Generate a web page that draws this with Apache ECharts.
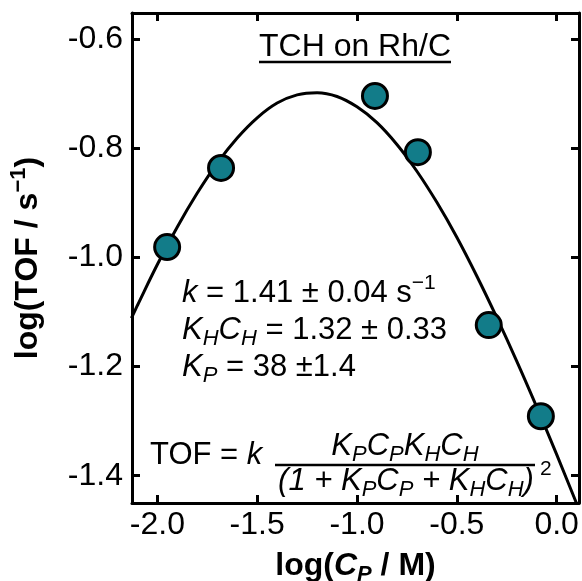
<!DOCTYPE html>
<html>
<head>
<meta charset="utf-8">
<script src="https://cdn.jsdelivr.net/npm/echarts@6/dist/echarts.min.js"></script>
<style>
  html, body { margin: 0; padding: 0; background: #fff; }
  #chart { width: 582px; height: 581px; }
</style>
</head>
<body>
<div id="chart"></div>
<script>
const FONT = '"Liberation Sans", Arial, Helvetica, sans-serif'

// measured rates, log(C_P / M) vs log(TOF / s^-1)
const ptX = [-1.951, -1.681, -0.910, -0.695, -0.340, -0.079]
const ptY = [-0.981, -0.836, -0.704, -0.807, -1.124, -1.291]

// fitted curve
const fitX = [-2.13, -2.1, -2.0, -1.9, -1.8, -1.7, -1.6, -1.5, -1.4, -1.3, -1.2, -1.1, -1.0,
  -0.9, -0.8, -0.7, -0.6, -0.5, -0.4, -0.3, -0.2, -0.1, 0.0, 0.1, 0.12]
const fitY = [-1.111, -1.088, -1.013, -0.944, -0.882, -0.827, -0.781, -0.744, -0.717, -0.702, -0.698, -0.705, -0.724,
  -0.753, -0.793, -0.842, -0.899, -0.963, -1.034, -1.110, -1.190, -1.274, -1.361, -1.451, -1.469]

const xTicks = [-2.0, -1.5, -1.0, -0.5, 0.0]
const yTicks = [-1.4, -1.2, -1.0, -0.8, -0.6]

const xRange = { min: -2.127, max: 0.112 }
const yRange = { min: -1.45, max: -0.552 }

const lineBlack = { color: '#000', width: 3 }

// rich styles for italics / sub / superscripts
const richBase = {
  i: { fontStyle: 'italic', fontSize: 31, fontFamily: FONT, lineHeight: 40, color: '#000' },
  isub: { fontStyle: 'italic', fontSize: 22, fontFamily: FONT, lineHeight: 26, verticalAlign: 'bottom', color: '#000' },
  sup: { fontSize: 21, fontFamily: FONT, lineHeight: 22, verticalAlign: 'top', color: '#000' }
}

function txt(text, x, y, opts) {
  return {
    type: 'text',
    x: x,
    y: y,
    z: 10,
    style: Object.assign({
      text: text,
      fontSize: 31,
      fontFamily: FONT,
      fill: '#000',
      lineHeight: 40,
      align: 'left',
      verticalAlign: 'middle',
      rich: richBase
    }, opts || {})
  }
}

function makeAxis(pos, show, range, ticks) {
  const isX = pos === 'bottom' || pos === 'top'
  return {
    type: 'value',
    position: pos,
    min: range.min,
    max: range.max,
    axisLine: { show: true, onZero: false, lineStyle: lineBlack },
    axisTick: { show: true, inside: true, length: 8, customValues: ticks, lineStyle: lineBlack },
    axisLabel: {
      show: show,
      customValues: ticks,
      formatter: (v) => v.toFixed(1),
      fontSize: 32,
      fontFamily: FONT,
      color: '#000',
      margin: isX ? 6 : 9
    },
    splitLine: { show: false }
  }
}

const xMain = makeAxis('bottom', true, xRange, xTicks)
xMain.name = 'log({bi|C}{bisub|P} / M)'
xMain.nameLocation = 'middle'
xMain.nameGap = 43
xMain.nameTextStyle = {
  fontSize: 32, fontWeight: 'bold', fontFamily: FONT, color: '#000', lineHeight: 40,
  rich: {
    bi: { fontSize: 32, fontWeight: 'bold', fontStyle: 'italic', fontFamily: FONT, lineHeight: 40, color: '#000' },
    bisub: { fontSize: 22, fontWeight: 'bold', fontStyle: 'italic', fontFamily: FONT, lineHeight: 26, verticalAlign: 'bottom', color: '#000' }
  }
}

const yMain = makeAxis('left', true, yRange, yTicks)
yMain.name = 'log(TOF / s{bsup|\u22121})'
yMain.nameLocation = 'middle'
yMain.nameRotate = 90
yMain.nameGap = 84
yMain.nameTextStyle = {
  fontSize: 32, fontWeight: 'bold', fontFamily: FONT, color: '#000', lineHeight: 40,
  rich: {
    bsup: { fontSize: 22, fontWeight: 'bold', fontFamily: FONT, lineHeight: 22, verticalAlign: 'top', color: '#000' }
  }
}

const chart = echarts.init(document.getElementById('chart'))

chart.setOption({
  animation: false,
  backgroundColor: '#fff',
  grid: { left: 132, right: 3, top: 13, bottom: 78, containLabel: false, outerBoundsMode: 'none' },
  xAxis: [xMain, makeAxis('top', false, xRange, xTicks)],
  yAxis: [yMain, makeAxis('right', false, yRange, yTicks)],
  series: [
    {
      name: 'fit',
      type: 'line',
      data: fitX.map((x, i) => [x, fitY[i]]),
      showSymbol: false,
      smooth: 0.4,
      clip: true,
      lineStyle: { color: '#000', width: 3 },
      z: 2
    },
    {
      name: 'data',
      type: 'scatter',
      data: ptX.map((x, i) => [x, ptY[i]]),
      symbolSize: 25,
      itemStyle: { color: '#127c89', borderColor: '#000', borderWidth: 3, opacity: 1 },
      z: 3
    }
  ],
  graphic: [
    // title with underline
    txt('TCH on Rh/C', 355, 47, { align: 'center', fontSize: 32 }),
    { type: 'line', z: 10, shape: { x1: 259, y1: 62, x2: 451, y2: 62 }, style: { stroke: '#000', lineWidth: 2.5 } },

    // fitted parameters
    txt('{i|k} = 1.41 \u00b1 0.04 s{sup|\u22121}', 182, 293),
    txt('{i|K}{isub|H}{i|C}{isub|H} = 1.32 \u00b1 0.33', 182, 330),
    txt('{i|K}{isub|P} = 38 \u00b11.4', 182, 367),

    // rate expression
    txt('TOF = {i|k}', 150, 455),
    txt('{i|K}{isub|P}{i|C}{isub|P}{i|K}{isub|H}{i|C}{isub|H}', 405, 446, { align: 'center' }),
    { type: 'line', z: 10, shape: { x1: 275, y1: 465, x2: 535, y2: 465 }, style: { stroke: '#000', lineWidth: 2.5 } },
    txt('{i|(1 + K}{isub|P}{i|C}{isub|P}{i| + K}{isub|H}{i|C}{isub|H}{i|)}', 406, 481, { align: 'center' }),
    txt('2', 540, 469, { fontSize: 21 })
  ]
})
</script>
</body>
</html>
